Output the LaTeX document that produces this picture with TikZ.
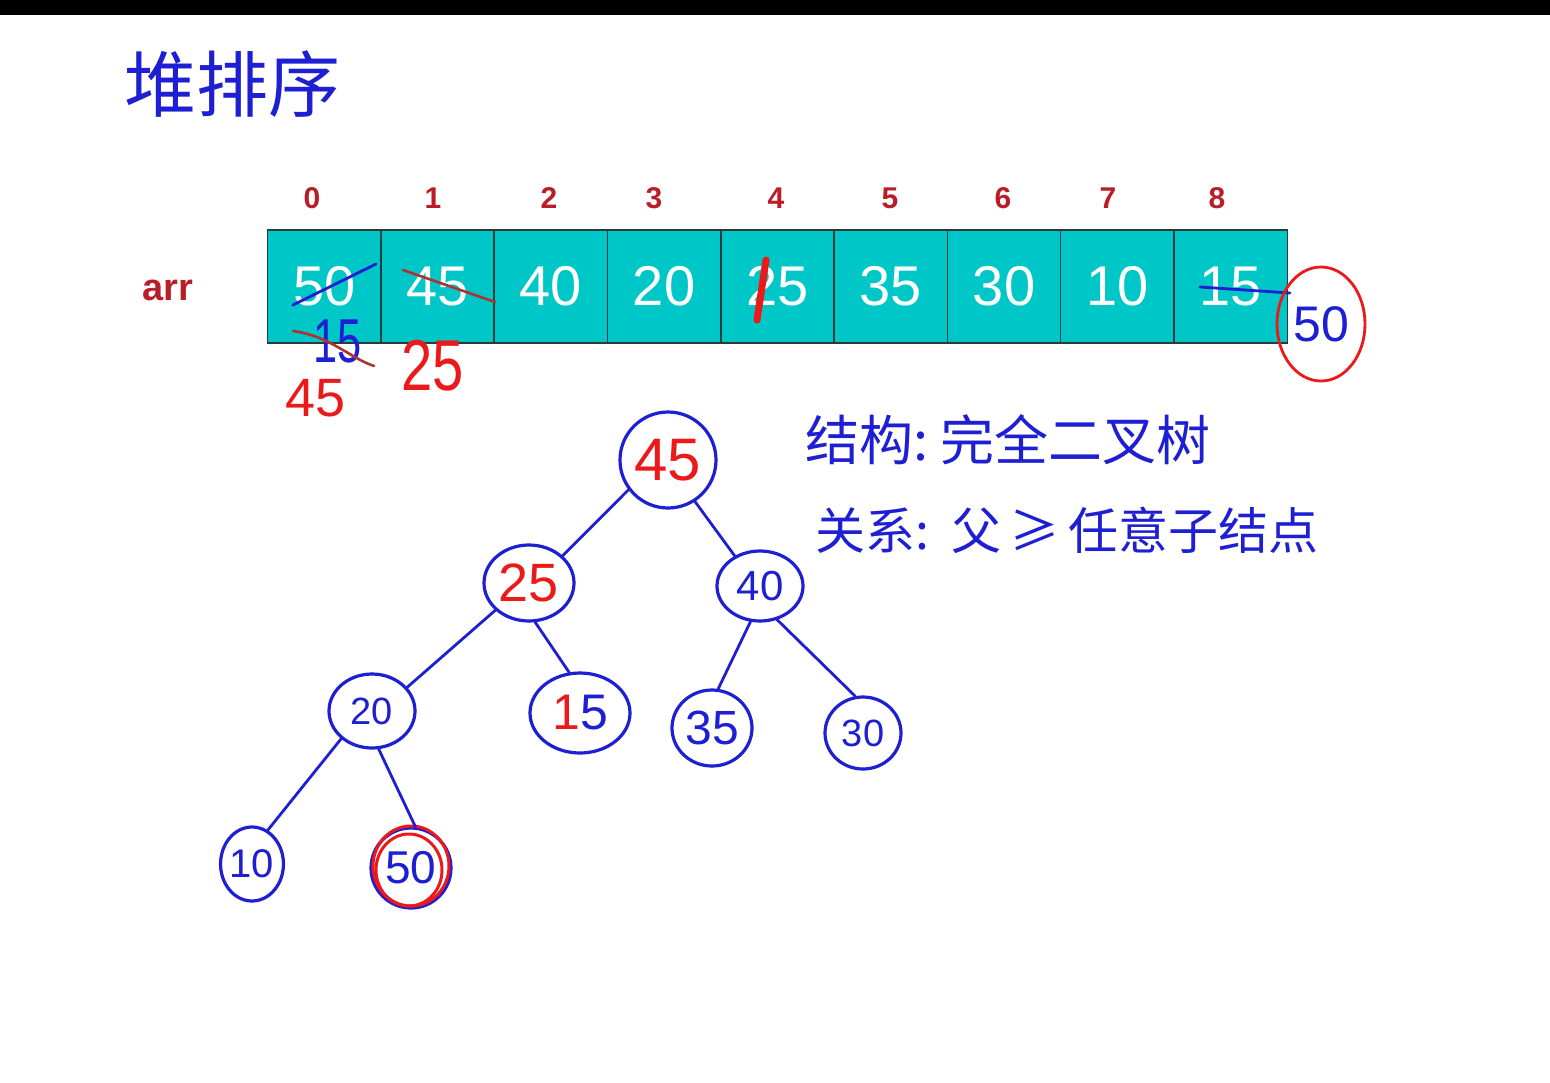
\documentclass[tikz,border=0pt]{standalone}
\usepackage{fontspec}
\setmainfont{Liberation Sans}
\newfontfamily\cjk{Noto Sans CJK SC}
\usetikzlibrary{shapes.geometric}
\definecolor{cellteal}{RGB}{0,199,199}
\definecolor{idxred}{RGB}{185,30,40}
\definecolor{penblue}{RGB}{30,30,210}
\definecolor{penred}{RGB}{235,25,25}
\definecolor{strikered}{RGB}{175,50,50}
\definecolor{cellline}{RGB}{40,60,60}
\newcommand{\fsz}[1]{\fontsize{#1}{#1}\selectfont}
\begin{document}
\begin{tikzpicture}[x=1pt,y=-1pt,
  cellbox/.style={draw=cellline,line width=1.5pt,fill=cellteal,minimum width=113.3pt,minimum height=113pt,inner sep=0pt,outer sep=0pt,text=white,font=\fsz{56}},
  idx/.style={text=idxred,font=\bfseries\fsz{30}},
  tnode/.style={ellipse,draw=penblue,line width=3.2pt,inner sep=0pt},
  edge/.style={draw=penblue,line width=2.8pt,line cap=round},
  bluestroke/.style={draw=penblue,line width=2.8pt,line cap=round},
  redstroke/.style={draw=strikered,line width=2.6pt,line cap=round},
  bluetxt/.style={text=penblue},
  redtxt/.style={text=penred},
  cjktxt/.style={text=penblue,inner sep=0pt}
]
\useasboundingbox (0,0) rectangle (1550,1082);
\fill[white] (0,0) rectangle (1550,1082);
\fill[black] (0,0) rectangle (1550,15);

% title
\node[cjktxt,font=\cjk\fsz{72}] (title) at (232,84) {堆排序};

% array
\node[text=idxred,font=\bfseries\fsz{38}] (arr) at (168,290) {arr};
\node[cellbox] (c0) at (324.2,286.5) {50};
\node[cellbox] (c1) at (437.5,286.5) {45};
\node[cellbox] (c2) at (550.8,286.5) {40};
\node[cellbox] (c3) at (664.1,286.5) {20};
\node[cellbox] (c4) at (777.4,286.5) {25};
\node[cellbox] (c5) at (890.7,286.5) {35};
\node[cellbox] (c6) at (1004.0,286.5) {30};
\node[cellbox] (c7) at (1117.3,286.5) {10};
\node[cellbox] (c8) at (1230.6,286.5) {15};

\node[idx] (i0) at (312,198) {0};
\node[idx] (i1) at (433,198) {1};
\node[idx] (i2) at (549,198) {2};
\node[idx] (i3) at (654,198) {3};
\node[idx] (i4) at (776,198) {4};
\node[idx] (i5) at (890,198) {5};
\node[idx] (i6) at (1003,198) {6};
\node[idx] (i7) at (1108,198) {7};
\node[idx] (i8) at (1217,198) {8};

% array annotations
\draw[bluestroke] (293,305) -- (376,264);
\draw[redstroke] (403,270) -- (495,302);
\node[bluetxt,font=\fsz{62}] (a15) at (338,341) {\scalebox{0.7}[1]{15}};
\draw[redstroke] (293,331) .. controls (330,336) and (350,358) .. (374,366);
\node[redtxt,font=\fsz{54}] (a45) at (316,398) {45};
\node[redtxt,font=\fsz{72}] (a25) at (433,366) {\scalebox{0.78}[1]{25}};
\draw[draw=penred,line width=7pt,line cap=round] (766,260) -- (757,320);
\draw[bluestroke] (1200,287) -- (1290,293);
\node[ellipse,draw=penred,line width=2.8pt,minimum width=88pt,minimum height=114pt,inner sep=0pt,text=penblue,font=\fsz{50}] (e50) at (1321,324) {50};

% tree
\node[tnode,minimum width=96pt,minimum height=96pt,text=penred,font=\fsz{60}] (n45) at (668,460) {45};
\node[tnode,minimum width=90pt,minimum height=76pt,text=penred,font=\fsz{54}] (n25) at (529,583) {25};
\node[tnode,minimum width=86pt,minimum height=70pt,text=penblue,font=\fsz{42}] (n40) at (760,586) {40};
\node[tnode,minimum width=86pt,minimum height=74pt,text=penblue,font=\fsz{38}] (n20) at (372,711) {20};
\node[tnode,minimum width=100pt,minimum height=80pt,text=penblue,font=\fsz{50}] (n15) at (580,713) {{\color{penred}1}5};
\node[tnode,minimum width=80pt,minimum height=76pt,text=penblue,font=\fsz{48}] (n35) at (712,728) {35};
\node[tnode,minimum width=76pt,minimum height=72pt,text=penblue,font=\fsz{38}] (n30) at (863,733) {30};
\node[tnode,minimum width=60pt,minimum height=74pt,text=penblue,font=\fsz{40}] (n10) at (252,864) {10};
\node[tnode,minimum width=80pt,minimum height=80pt,text=penblue,font=\fsz{46}] (n50) at (411,868) {50};
\draw[draw=penred,line width=3pt] (411,866) ellipse (38 and 40);
\draw[draw=penred,line width=3pt] (409,870) ellipse (33 and 36);

\draw[edge] (n45.217) -- (n25.39);
\draw[edge] (n45.303) -- (n40.130);
\draw[edge] (n25.219) -- (n20.34);
\draw[edge] (n25.279) -- (n15.105);
\draw[edge] (n40.255) -- (n35.81);
\draw[edge] (n40.297) -- (n30.102);
\draw[edge] (n20.222) -- (n10.65);
\draw[edge] (n20.280) -- (n50.84);

% notes
\node[cjktxt,font=\cjk\fsz{54},anchor=west] (note1) at (805,440) {结构:\ 完全二叉树};
\node[cjktxt,font=\cjk\fsz{50},anchor=west] (note2) at (815,530) {关系:\ \ 父\,≥\,任意子结点};
\end{tikzpicture}
\end{document}
